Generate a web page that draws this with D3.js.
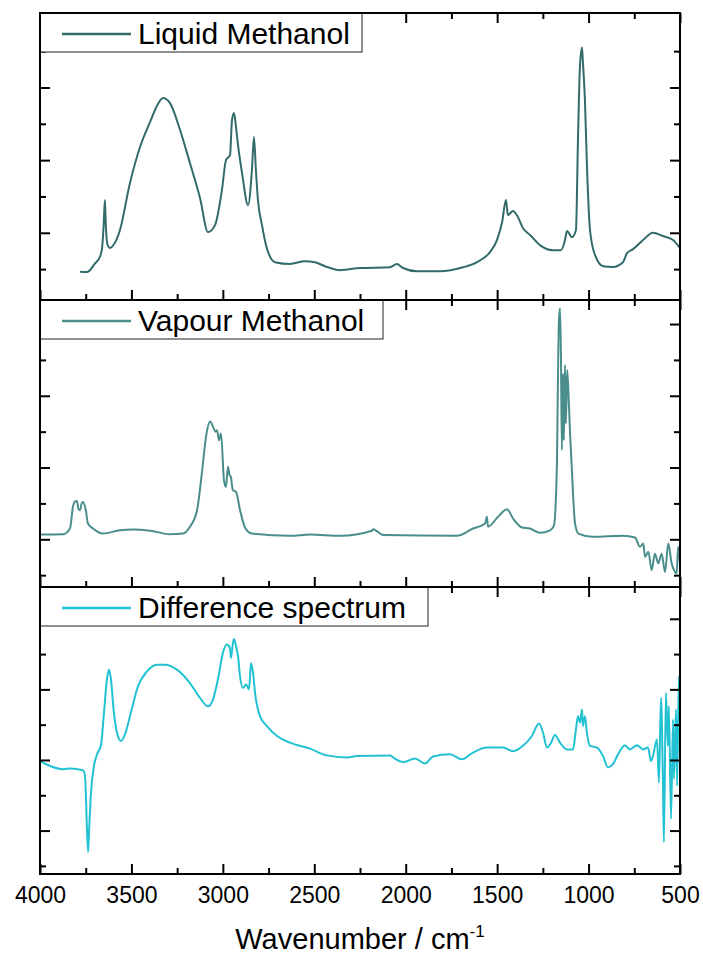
<!DOCTYPE html>
<html>
<head>
<meta charset="utf-8">
<script src="https://cdn.jsdelivr.net/npm/d3@7"></script>
<style>
  html, body { margin: 0; padding: 0; background: #fff; }
  svg { display: block; font-family: "Liberation Sans", Arial, sans-serif; }
</style>
</head>
<body>
<svg id="chart" width="703" height="963"></svg>
<script>
// ---------------- DATA ----------------
const xTickValues = [4000, 3500, 3000, 2500, 2000, 1500, 1000, 500];
const xMinorTickValues = [3750, 3250, 2750, 2250, 1750, 1250, 750];
const xAxisTitle = "Wavenumber / cm";
const xAxisTitleSup = "-1";

const seriesNames = ["Liquid Methanol", "Vapour Methanol", "Difference spectrum"];
const seriesColors = ["#336b6b", "#4a8e8c", "#22c2d2"];

const liquidWn = [3781,3743,3700,3672,3660,3652,3645,3640,3632,3617,3600,3563,3508,3453,3398,3360,3327,3289,3234,3180,3125,3081,3043,3005,2983,2961,2950,2939,2928,2917,2895,2862,2841,2830,2819,2808,2786,2764,2715,2633,2551,2496,2441,2359,2250,2086,2048,2015,1938,1812,1687,1610,1539,1501,1473,1452,1441,1413,1386,1359,1320,1266,1195,1151,1129,1118,1091,1069,1058,1047,1036,1031,1020,1009,992,965,921,867,812,790,757,702,648,593,538,500];
const liquidVal = [-0.07,-0.08,0.15,0.34,0.6,1.2,1.9,1.2,0.7,0.58,0.65,1.07,2.37,3.36,4.05,4.5,4.71,4.57,3.83,2.92,1.96,1.02,1.21,2.18,3.0,3.14,4.1,4.3,3.91,3.41,2.64,1.76,2.73,3.64,2.7,1.9,1.21,0.66,0.19,0.14,0.22,0.19,0.08,-0.03,0.03,0.05,0.14,0.03,-0.06,-0.06,0.05,0.19,0.47,0.8,1.29,1.9,1.49,1.6,1.43,1.13,0.94,0.66,0.52,0.52,0.8,1.05,0.88,1.07,3.55,5.6,6.1,5.7,4.66,2.86,1.07,0.39,0.08,0.06,0.19,0.44,0.55,0.8,1.0,0.91,0.8,0.58];

const vapourWn = [4000,3874,3836,3820,3810,3798,3790,3781,3772,3765,3749,3738,3710,3656,3563,3491,3398,3289,3218,3180,3141,3114,3092,3070,3054,3040,3032,3021,3010,2994,2983,2972,2964,2956,2950,2945,2928,2906,2879,2841,2633,2523,2359,2184,2179,2124,1720,1632,1566,1556,1550,1495,1446,1413,1364,1320,1266,1211,1189,1173,1168,1162,1156,1151,1146,1140,1135,1129,1124,1117,1109,1102,1093,1074,1056,976,812,746,719,701,691,673,655,637,619,600,582,564,546,527,518,510,500];
const vapourVal = [1.13,1.14,1.3,1.9,2.05,2.07,1.85,1.81,2.0,2.04,1.8,1.44,1.3,1.16,1.25,1.27,1.24,1.14,1.16,1.35,1.81,2.88,3.86,4.28,4.14,4.0,4.04,3.76,3.95,2.65,2.46,3.02,2.8,2.74,2.5,2.37,2.32,1.81,1.33,1.16,1.1,1.13,1.1,1.24,1.28,1.12,1.1,1.3,1.44,1.63,1.35,1.63,1.84,1.58,1.33,1.3,1.18,1.25,1.39,3.11,5.25,7.1,7.44,6.09,3.49,5.62,3.76,5.86,4.23,5.72,4.97,4.04,3.11,1.44,1.16,1.07,1.1,1.05,0.79,0.88,0.51,0.65,0.14,0.6,0.33,0.6,0.09,0.88,0.33,0.09,0.05,0.79,0.33];

const diffWn = [4000,3945,3874,3836,3765,3754,3743,3737,3732,3721,3705,3688,3666,3650,3634,3623,3612,3596,3574,3557,3535,3503,3464,3415,3360,3316,3251,3180,3125,3081,3054,3027,3000,2978,2961,2956,2945,2939,2928,2917,2906,2890,2873,2857,2846,2835,2824,2797,2759,2704,2633,2523,2431,2321,2267,2086,2069,2015,1949,1894,1851,1758,1692,1632,1556,1468,1413,1359,1310,1271,1249,1227,1205,1184,1156,1118,1085,1069,1058,1047,1036,1031,1020,1009,992,954,921,894,867,839,801,774,735,702,675,659,648,626,615,604,593,588,577,566,561,549,538,533,522,516,506,500];
const diffVal = [2.97,2.83,2.74,2.76,2.71,2.55,1.04,0.39,0.95,2.08,2.83,3.16,3.44,4.34,5.28,5.56,5.28,4.34,3.68,3.54,3.73,4.34,5.09,5.51,5.7,5.7,5.56,5.18,4.76,4.52,4.71,5.28,6.03,6.27,6.17,5.89,6.31,6.43,6.22,5.94,5.37,5.04,5.14,5.0,5.75,5.47,4.9,4.24,3.96,3.68,3.49,3.32,3.13,3.07,3.11,3.13,3.07,2.94,3.04,2.9,3.1,3.16,3.02,3.21,3.35,3.35,3.25,3.4,3.68,4.03,3.77,3.35,3.49,3.71,3.49,3.3,3.3,3.87,4.24,4.06,4.43,3.96,4.24,3.77,3.4,3.35,3.11,2.79,2.88,3.16,3.42,3.3,3.42,3.3,3.35,2.97,3.11,3.58,2.36,4.76,2.27,0.67,4.9,3.4,4.52,1.33,4.15,2.46,4.43,2.27,5.37,4.0];

// y-domains and tick values per panel (arbitrary intensity units)
const yDomains = [[-0.85, 7.05], [-0.33, 7.67], [-0.23, 7.9]];
const yTickValues = [[0,1,2,3,4,5,6], [0,1,2,3,4,5,6,7], [0,1,2,3,4,5,6,7]];

// ---------------- LAYOUT ----------------
const svg = d3.select("#chart");
const left = 40, right = 680;
const panelTops = [13, 300, 587];
const panelH = 287;
const legendW = [322, 343, 388];
const legendH = 39;

const x = d3.scaleLinear().domain([4000, 500]).range([left, right]);

const seriesData = [
  liquidWn.map((w, i) => ({w, v: liquidVal[i]})),
  vapourWn.map((w, i) => ({w, v: vapourVal[i]})),
  diffWn.map((w, i) => ({w, v: diffVal[i]}))
];

const defs = svg.append("defs");

panelTops.forEach((top, p) => {
  const bottom = top + panelH;
  const y = d3.scaleLinear().domain(yDomains[p]).range([bottom, top]);
  const g = svg.append("g");

  defs.append("clipPath").attr("id", "clip" + p)
    .append("rect").attr("x", left).attr("y", top).attr("width", right - left).attr("height", panelH);

  // series line
  const line = d3.line().x(d => x(d.w)).y(d => y(d.v)).curve(d3.curveMonotoneX);
  g.append("path")
    .datum(seriesData[p].slice().sort((a, b) => a.w - b.w))
    .attr("clip-path", "url(#clip" + p + ")")
    .attr("fill", "none")
    .attr("stroke", seriesColors[p])
    .attr("stroke-width", 2)
    .attr("stroke-linejoin", "round")
    .attr("d", line);

  // x ticks (bottom, top), inward
  const xb = d3.axisBottom(x).tickValues(xTickValues).tickSizeInner(-10).tickSizeOuter(0).tickFormat("");
  const xbm = d3.axisBottom(x).tickValues(xMinorTickValues).tickSizeInner(-6).tickSizeOuter(0).tickFormat("");
  const xt = d3.axisTop(x).tickValues(xTickValues).tickSizeInner(-10).tickSizeOuter(0).tickFormat("");
  const xtm = d3.axisTop(x).tickValues(xMinorTickValues).tickSizeInner(-6).tickSizeOuter(0).tickFormat("");
  [[xb, bottom], [xbm, bottom], [xt, top], [xtm, top]].forEach(([ax, pos]) => {
    g.append("g").attr("class", "tk").attr("transform", `translate(0,${pos})`).call(ax);
  });

  // y ticks (left, right), inward, alternating long/short
  const majorY = yTickValues[p].filter((d, i) => i % 2 === 1);
  const minorY = yTickValues[p].filter((d, i) => i % 2 === 0);
  const yl = d3.axisLeft(y).tickValues(majorY).tickSizeInner(-10).tickSizeOuter(0).tickFormat("");
  const ylm = d3.axisLeft(y).tickValues(minorY).tickSizeInner(-6).tickSizeOuter(0).tickFormat("");
  const yr = d3.axisRight(y).tickValues(majorY).tickSizeInner(-10).tickSizeOuter(0).tickFormat("");
  const yrm = d3.axisRight(y).tickValues(minorY).tickSizeInner(-6).tickSizeOuter(0).tickFormat("");
  [[yl, left], [ylm, left], [yr, right], [yrm, right]].forEach(([ax, pos]) => {
    g.append("g").attr("class", "tk").attr("transform", `translate(${pos},0)`).call(ax);
  });

  // legend box
  const lg = g.append("g");
  lg.append("rect").attr("x", left).attr("y", top).attr("width", legendW[p]).attr("height", legendH)
    .attr("fill", "#fff").attr("stroke", "#222").attr("stroke-width", 1);
  const ly = top + 21;
  lg.append("line").attr("x1", left + 22).attr("x2", left + 91).attr("y1", ly).attr("y2", ly)
    .attr("stroke", seriesColors[p]).attr("stroke-width", 2.5);
  lg.append("text").attr("x", left + 98).attr("y", top + 31)
    .attr("font-size", 30).attr("fill", "#000").text(seriesNames[p]);

  // frame
  g.append("rect").attr("x", left).attr("y", top).attr("width", right - left).attr("height", panelH)
    .attr("fill", "none").attr("stroke", "#000").attr("stroke-width", 2);
});

svg.selectAll(".tk path").remove();
svg.selectAll(".tk line").attr("stroke", "#000").attr("stroke-width", 2);

// x tick labels on the bottom panel
const bottomY = panelTops[2] + panelH;
const lab = svg.append("g").attr("transform", `translate(0,${bottomY})`)
  .call(d3.axisBottom(x).tickValues(xTickValues).tickSize(0).tickPadding(13).tickFormat(d3.format("d")));
lab.select("path").remove();
lab.selectAll("text").attr("font-size", 23).attr("fill", "#000").attr("font-family", "'Liberation Sans', Arial, sans-serif");

// x axis title
const title = svg.append("text").attr("x", (left + right) / 2).attr("y", 949)
  .attr("text-anchor", "middle").attr("font-size", 29).attr("fill", "#000");
title.append("tspan").text(xAxisTitle);
title.append("tspan").attr("font-size", 17).attr("dy", -12).text(xAxisTitleSup);
</script>
</body>
</html>
